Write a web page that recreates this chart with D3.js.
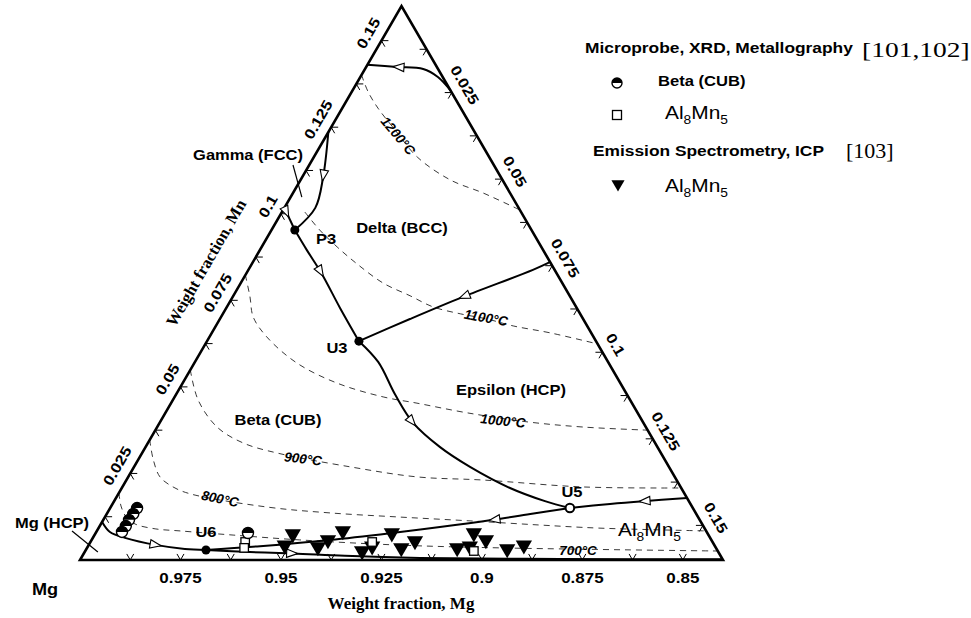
<!DOCTYPE html>
<html>
<head>
<meta charset="utf-8">
<script src="https://cdn.jsdelivr.net/npm/d3@7/dist/d3.min.js"></script>
<style>
  html, body { margin: 0; padding: 0; background: #fff; }
  svg { display: block; }
</style>
</head>
<body>
<svg id="chart" width="971" height="618"></svg>
<script>
// Mg-rich corner of the Mg–Al–Mn liquidus projection (weight fractions).
// Every composition is written as [Al, Mn]; Mg = 1 - Al - Mn.
const span = 0.16;

// axis ticks and labels
const tickValues = [0.0125, 0.025, 0.0375, 0.05, 0.0625, 0.075, 0.0875, 0.1, 0.1125, 0.125, 0.1375, 0.15];
const mnTickLabels = ["0.025", "0.05", "0.075", "0.1", "0.125", "0.15"];
const alTickLabels = ["0.025", "0.05", "0.075", "0.1", "0.125", "0.15"];
const mgTickLabels = ["0.975", "0.95", "0.925", "0.9", "0.875", "0.85"];

// invariant points
const invP3 = [0.0058, 0.0953];
const invU3 = [0.0378, 0.0632];
const invU5 = [0.1144, 0.0150];
const invU6 = [0.0299, 0.0029];

// univariant (boundary) lines, listed in the direction of falling temperature
const lineDeltaTop   = [[0.0244, 0.1356], [0.0193, 0.1395], [0.0145, 0.1418], [0.0077, 0.1424], [0, 0.1430]];
const lineDeltaGamma = [[0, 0.1236], [0.0052, 0.1106], [0.0077, 0.1017], invP3];
const lineGammaBeta  = [[0, 0.1017], invP3];
const lineP3U3       = [invP3, [0.0117, 0.0895], [0.0186, 0.0829], [0.0283, 0.0728], invU3];
const lineDeltaEps   = [[0.0740, 0.0861], [0.0708, 0.0838], [0.0573, 0.0760], [0.0473, 0.0696], invU3];
const lineU3U5       = [invU3, [0.0456, 0.0572], [0.0546, 0.0477], [0.0631, 0.0396], [0.0733, 0.0326],
                        [0.0836, 0.0269], [0.0966, 0.0208], [0.1072, 0.0170], invU5];
const lineEpsAl8Mn5  = [[0.1421, 0.0179], [0.1316, 0.0170], [0.1238, 0.0162], invU5];
const lineU5U6       = [invU5, [0.1054, 0.0133], [0.0970, 0.0116], [0.0848, 0.0095], [0.0756, 0.0081],
                        [0.0593, 0.0058], [0.0428, 0.0040], invU6];
const lineMgBeta     = [[0, 0.0110], [0.0034, 0.0081], [0.0080, 0.0064], [0.0170, 0.0043], [0.0245, 0.0032], invU6];
const lineMgAl8Mn5   = [invU6, [0.0411, 0.0023], [0.0521, 0.0019], [0.0653, 0.0012], [0.0843, 0.0006],
                        [0.1193, 0.0003], [0.1596, 0.0002]];

// liquidus isotherms
const iso1200 = [[0, 0.1401], [0.0041, 0.1352], [0.0089, 0.1305], [0.0163, 0.1242], [0.0257, 0.1164],
                 [0.0372, 0.1098], [0.0473, 0.1060], [0.0589, 0.1011]];
const iso1100 = [[0.0057, 0.1005], [0.0120, 0.0953], [0.0188, 0.0904], [0.0262, 0.0855], [0.0354, 0.0800],
                 [0.0440, 0.0763], [0.0513, 0.0731], [0.0591, 0.0711], [0.0665, 0.0696], [0.0740, 0.0676],
                 [0.0842, 0.0656], [0.0976, 0.0624]];
const iso1000 = [[0, 0.0823], [0.0043, 0.0760], [0.0080, 0.0702], [0.0143, 0.0644], [0.0255, 0.0569],
                 [0.0384, 0.0511], [0.0519, 0.0471], [0.0612, 0.0453], [0.0751, 0.0425], [0.0913, 0.0399],
                 [0.1060, 0.0384], [0.1225, 0.0375]];
const iso900  = [[0, 0.0549], [0.0063, 0.0462], [0.0149, 0.0384], [0.0237, 0.0338], [0.0336, 0.0309],
                 [0.0538, 0.0269], [0.0719, 0.0240], [0.0887, 0.0231], [0.1146, 0.0211], [0.1392, 0.0208]];
const iso800  = [[0, 0.0347], [0.0038, 0.0289], [0.0079, 0.0240], [0.0126, 0.0211], [0.0179, 0.0191],
                 [0.0389, 0.0153], [0.0554, 0.0136], [0.0734, 0.0124], [0.0914, 0.0113], [0.1094, 0.0101],
                 [0.1248, 0.0092], [0.1516, 0.0084]];
const iso700  = [[0, 0.0194], [0.0024, 0.0156], [0.0053, 0.0124], [0.0085, 0.0104], [0.0142, 0.0090],
                 [0.0207, 0.0084], [0.0345, 0.0072], [0.0518, 0.0058], [0.0774, 0.0043], [0.1028, 0.0035],
                 [0.1574, 0.0026]];

// experimental compositions
const betaCubProbe = [[0.0067, 0.0150], [0.0066, 0.0133], [0.0064, 0.0116], [0.0065, 0.0098],
                      [0.0064, 0.0081], [0.0379, 0.0078]];
const al8mn5Probe  = [[0.0385, 0.0052], [0.0391, 0.0035], [0.0701, 0.0052], [0.0967, 0.0026]];
const al8mn5Icp    = [[0.0488, 0.0043], [0.0492, 0.0075], [0.0573, 0.0038], [0.0588, 0.0058], [0.0612, 0.0084],
                      [0.0689, 0.0026], [0.0707, 0.0040], [0.0737, 0.0078], [0.0782, 0.0035], [0.0806, 0.0055],
                      [0.0921, 0.0035], [0.0950, 0.0040], [0.0941, 0.0078], [0.0981, 0.0058], [0.1047, 0.0032],
                      [0.1083, 0.0043]];

// ---------------------------------------------------------------------------
const SANS = "'Liberation Sans', Arial, Helvetica, sans-serif";
const SERIF = "'Liberation Serif', 'Times New Roman', serif";

const svg = d3.select("#chart");
svg.append("rect").attr("width", 971).attr("height", 618).attr("fill", "#fff");

const xScale = d3.scaleLinear().domain([0, span]).range([80, 723]);
const yScale = d3.scaleLinear().domain([0, span]).range([560, 6]);
const proj = ([al, mn]) => [xScale(al + mn / 2), yScale(mn)];

const curve = d3.line()
  .x(d => proj(d)[0]).y(d => proj(d)[1])
  .curve(d3.curveCatmullRom.alpha(0.5));
const straight = d3.line().x(d => proj(d)[0]).y(d => proj(d)[1]);

function addText(parent, o) {
  const g = parent.append("g")
    .attr("transform", `translate(${o.x},${o.y}) rotate(${o.rot || 0}) scale(${o.sx || 1},1)`);
  const t = g.append("text")
    .attr("text-anchor", o.anchor || "start")
    .attr("font-family", o.family || SANS)
    .attr("font-size", o.size)
    .attr("font-weight", o.weight || "bold")
    .attr("font-style", o.italic ? "italic" : "normal")
    .attr("fill", "#000");
  if (o.central) t.attr("dominant-baseline", "central");
  t.text(o.text);
  return t;
}

function addFormula(parent, x, y, size, sx) {
  const g = parent.append("g").attr("transform", `translate(${x},${y}) scale(${sx},1)`);
  const t = g.append("text").attr("font-family", SANS).attr("font-size", size).attr("fill", "#000");
  const sub = size * 0.66, shift = size * 0.28;
  t.append("tspan").text("Al");
  t.append("tspan").attr("font-size", sub).attr("dy", shift).text("8");
  t.append("tspan").attr("dy", -shift).text("Mn");
  t.append("tspan").attr("font-size", sub).attr("dy", shift).text("5");
}

// ---- isotherms (dashed)
const isoLayer = svg.append("g").attr("fill", "none").attr("stroke", "#222")
  .attr("stroke-width", 0.9).attr("stroke-dasharray", "6,5");
[iso1200, iso1100, iso1000, iso900, iso800, iso700].forEach(pts => {
  isoLayer.append("path").attr("d", curve(pts));
});

// ---- triangle frame
const frame = [[0, 0], [span, 0], [0, span]];
svg.append("path")
  .attr("d", straight(frame) + "Z")
  .attr("fill", "none").attr("stroke", "#000").attr("stroke-width", 2.6)
  .attr("stroke-linejoin", "miter");

// ---- ticks: two short arms along the grid directions that cross each edge
const tickLayer = svg.append("g").attr("stroke", "#000").attr("stroke-width", 1).attr("fill", "none");
const armLen = 7;
const c60 = 0.5, s60 = Math.sqrt(3) / 2;
const edges = [
  { at: v => [v, 0],        arms: [[-c60, -s60], [c60, -s60]] },   // Mg–Al edge (bottom)
  { at: v => [0, v],        arms: [[1, 0], [c60, s60]] },          // Mg–Mn edge (left)
  { at: v => [v, span - v], arms: [[-1, 0], [-c60, s60]] }         // right edge
];
edges.forEach(e => {
  tickValues.forEach(v => {
    const [px, py] = proj(e.at(v));
    e.arms.forEach(([dx, dy]) => {
      tickLayer.append("line")
        .attr("x1", px).attr("y1", py)
        .attr("x2", px + dx * armLen).attr("y2", py + dy * armLen);
    });
  });
});

// tick labels
const labelLayer = svg.append("g");
mgTickLabels.forEach(s => {
  const [px] = proj([1 - (+s), 0]);
  addText(labelLayer, { x: px, y: 578, text: s, size: 14.5, sx: 1.17, anchor: "middle", central: true });
});
mnTickLabels.forEach(s => {
  const [px, py] = proj([0, +s]);
  addText(labelLayer, { x: px - 15 * s60, y: py - 15 * c60, rot: -60, text: s, size: 14.5, sx: 1.17,
    anchor: "middle", central: true });
});
alTickLabels.forEach(s => {
  const [px, py] = proj([+s, span - (+s)]);
  addText(labelLayer, { x: px + 15 * s60, y: py - 15 * c60, rot: 60, text: s, size: 14.5, sx: 1.17,
    anchor: "middle", central: true });
});

// axis titles
{
  const [px, py] = proj([0, 0.08]);
  addText(labelLayer, { x: px - 40 * s60, y: py - 40 * c60, rot: -60, text: "Weight fraction, Mn",
    family: SERIF, size: 16.5, anchor: "middle", central: true });
}
addText(labelLayer, { x: 401, y: 609, text: "Weight fraction, Mg", family: SERIF, size: 17, anchor: "middle" });
addText(labelLayer, { x: 45, y: 595, text: "Mg", size: 16.5, sx: 1.1, anchor: "middle" });

// ---- boundary lines with direction arrows
const boundaryLines = [
  { pts: lineDeltaTop,   arrowAt: 3 },
  { pts: lineDeltaGamma, arrowAt: 1 },
  { pts: lineGammaBeta,  arrowAt: null, frac: 0.25 },
  { pts: lineP3U3,       arrowAt: 2 },
  { pts: lineDeltaEps,   arrowAt: 2 },
  { pts: lineU3U5,       arrowAt: 3 },
  { pts: lineEpsAl8Mn5,  arrowAt: 1 },
  { pts: lineU5U6,       arrowAt: 2 },
  { pts: lineMgBeta,     arrowAt: 3 },
  { pts: lineMgAl8Mn5,   arrowAt: 2 }
];
const lineLayer = svg.append("g");
boundaryLines.forEach(b => {
  const path = lineLayer.append("path")
    .attr("d", b.pts.length > 2 ? curve(b.pts) : straight(b.pts))
    .attr("fill", "none").attr("stroke", "#000").attr("stroke-width", 2)
    .attr("stroke-linejoin", "round");
  const node = path.node();
  const L = node.getTotalLength();
  let at;
  if (b.arrowAt == null) {
    at = L * b.frac;
  } else {
    const target = proj(b.pts[b.arrowAt]);
    let best = 0, bd = Infinity;
    for (let i = 0; i <= 400; i++) {
      const l = L * i / 400, p = node.getPointAtLength(l);
      const d = (p.x - target[0]) ** 2 + (p.y - target[1]) ** 2;
      if (d < bd) { bd = d; best = l; }
    }
    at = best;
  }
  const p0 = node.getPointAtLength(Math.max(0, at - 2));
  const p1 = node.getPointAtLength(Math.min(L, at + 2));
  const p = node.getPointAtLength(at);
  const ang = Math.atan2(p1.y - p0.y, p1.x - p0.x) * 180 / Math.PI;
  lineLayer.append("path")
    .attr("d", "M4,0 L-7,-4.2 L-7,4.2 Z")
    .attr("transform", `translate(${p.x},${p.y}) rotate(${ang})`)
    .attr("fill", "#fff").attr("stroke", "#000").attr("stroke-width", 1.1);
});

// leader lines from phase labels to their fields
const leaders = [
  { label: [72, 531],  to: [0.0033, 0.0023] },   // Mg (HCP)
  { label: [293, 165], to: [0.0028, 0.1048] }    // Gamma (FCC)
];
leaders.forEach(l => {
  const b = proj(l.to);
  lineLayer.append("line")
    .attr("x1", l.label[0]).attr("y1", l.label[1])
    .attr("x2", b[0]).attr("y2", b[1])
    .attr("stroke", "#000").attr("stroke-width", 1.2);
});

// ---- invariant points
const ptLayer = svg.append("g");
[invP3, invU3, invU6].forEach(d => {
  const [x, y] = proj(d);
  ptLayer.append("circle").attr("cx", x).attr("cy", y).attr("r", 4.5).attr("fill", "#000");
});
{
  const [x, y] = proj(invU5);
  ptLayer.append("circle").attr("cx", x).attr("cy", y).attr("r", 4.3)
    .attr("fill", "#fff").attr("stroke", "#000").attr("stroke-width", 2);
}

// ---- experimental data
const dataLayer = svg.append("g");
function halfCircle(g, x, y, r) {
  g.append("circle").attr("cx", x).attr("cy", y).attr("r", r)
    .attr("fill", "#fff").attr("stroke", "#000").attr("stroke-width", 1.4);
  g.append("path").attr("d", `M${x - r},${y} A${r},${r} 0 0 1 ${x + r},${y} Z`).attr("fill", "#000");
}
function openSquare(g, x, y, s) {
  g.append("rect").attr("x", x - s / 2).attr("y", y - s / 2).attr("width", s).attr("height", s)
    .attr("fill", "#fff").attr("stroke", "#000").attr("stroke-width", 1.3);
}
function downTriangle(g, x, y, size) {
  g.append("path").attr("d", d3.symbol(d3.symbolTriangle, size)())
    .attr("transform", `translate(${x},${y}) rotate(180)`).attr("fill", "#000");
}
al8mn5Icp.forEach(d => { const [x, y] = proj(d); downTriangle(dataLayer, x, y, 115); });
al8mn5Probe.forEach(d => { const [x, y] = proj(d); openSquare(dataLayer, x, y, 8.5); });
betaCubProbe.forEach(d => { const [x, y] = proj(d); halfCircle(dataLayer, x, y, 5.5); });

// ---- isotherm labels
const tempLabels = [
  { t: 1200, x: 398, y: 136, rot: 50 },
  { t: 1100, x: 486, y: 318, rot: 10 },
  { t: 1000, x: 503, y: 421, rot: 6 },
  { t: 900,  x: 303, y: 459, rot: 7 },
  { t: 800,  x: 220, y: 499, rot: 12 },
  { t: 700,  x: 578, y: 550, rot: 0 }
];
tempLabels.forEach(l => {
  addText(labelLayer, { x: l.x, y: l.y, rot: l.rot, text: `${l.t}°C`, size: 13.5, italic: true,
    anchor: "middle", central: true });
});

// ---- phase field and point labels
const phaseLabels = [
  { text: "Gamma (FCC)",   x: 248, y: 160 },
  { text: "Delta (BCC)",   x: 402, y: 233 },
  { text: "Epsilon (HCP)", x: 511, y: 395 },
  { text: "Beta (CUB)",    x: 278, y: 425 },
  { text: "Mg (HCP)",      x: 52,  y: 528 },
  { text: "P3",            x: 326, y: 244 },
  { text: "U3",            x: 337, y: 353 },
  { text: "U5",            x: 572, y: 497 },
  { text: "U6",            x: 206, y: 537 }
];
phaseLabels.forEach(l => addText(labelLayer, { x: l.x, y: l.y, text: l.text, size: 15, sx: 1.1, anchor: "middle" }));
addFormula(labelLayer, 618, 536, 19, 1.1);

// ---- legend
const legend = svg.append("g");
addText(legend, { x: 585, y: 53, text: "Microprobe, XRD, Metallography", size: 15.5, sx: 1.12 });
addText(legend, { x: 862, y: 57, text: "[101,102]", family: SERIF, weight: "normal", size: 22, sx: 1.25 });
halfCircle(legend, 617, 83, 5);
addText(legend, { x: 658, y: 86, text: "Beta (CUB)", size: 15.5, sx: 1.07 });
openSquare(legend, 617, 115, 9);
addFormula(legend, 665, 119, 19, 1.1);
addText(legend, { x: 593, y: 156, text: "Emission Spectrometry, ICP", size: 15.5, sx: 1.12 });
addText(legend, { x: 846, y: 158, text: "[103]", family: SERIF, weight: "normal", size: 22, sx: 1.0 });
downTriangle(legend, 618, 184, 75);
addFormula(legend, 665, 192, 19, 1.1);
</script>
</body>
</html>
